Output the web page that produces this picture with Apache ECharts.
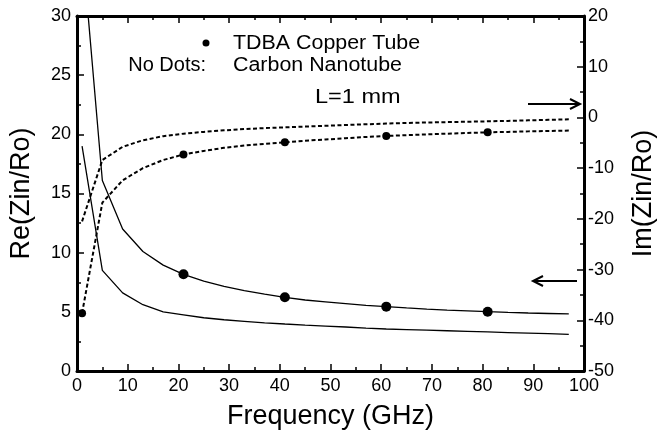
<!DOCTYPE html>
<html><head><meta charset="utf-8">
<script src="https://cdn.jsdelivr.net/npm/echarts@6/dist/echarts.min.js"></script>
<style>html,body{margin:0;padding:0;background:#fff}#c{width:665px;height:435px}</style>
</head><body><div id="c"></div>
<script>
// Frequency samples (GHz)
const freqs = [1,5,9,13,17,21,25,29,33,37,41,45,49,53,57,61,65,69,73,77,81,85,89,93,97];
// Re(Zin/Ro), TDBA copper tube (left axis)
const cuRe  = [36,16.1,12.0,10.1,8.95,8.17,7.6,7.15,6.8,6.5,6.23,6.0,5.85,5.7,5.55,5.44,5.33,5.23,5.15,5.08,5.01,4.95,4.9,4.86,4.82];
// Re(Zin/Ro), carbon nanotube (left axis)
const cntRe = [19,8.5,6.6,5.6,5.0,4.75,4.5,4.33,4.2,4.07,3.97,3.88,3.8,3.72,3.62,3.55,3.5,3.45,3.4,3.35,3.3,3.25,3.2,3.15,3.1];
// Im(Zin/Ro), TDBA copper tube (right axis)
const cuIm  = [-38.6,-16.8,-12.4,-10.0,-8.4,-7.3,-6.6,-6.0,-5.55,-5.2,-4.9,-4.6,-4.35,-4.1,-3.85,-3.66,-3.5,-3.35,-3.2,-3.07,-2.94,-2.85,-2.75,-2.68,-2.6];
// Im(Zin/Ro), carbon nanotube (right axis)
const cntIm = [-20.5,-8.4,-5.8,-4.5,-3.7,-3.2,-2.85,-2.55,-2.3,-2.1,-1.95,-1.8,-1.65,-1.5,-1.35,-1.2,-1.1,-1.0,-0.92,-0.85,-0.77,-0.68,-0.58,-0.48,-0.38];
// Frequencies where copper-tube dots are drawn
const dotFreqs = [1,21,41,61,81];

const FONT = 'Liberation Sans, Arial, sans-serif';
const pairs = (ys) => freqs.map((f, i) => [f, ys[i]]);
const dots = (ys) => freqs.map((f, i) => [f, ys[i]]).filter(p => dotFreqs.includes(p[0]));

const axisLine = { show: true, onZero: false, lineStyle: { color: '#000', width: 3 } };
const tick = { show: true, inside: true, length: 7, lineStyle: { color: '#000', width: 1.5 } };
const minor = { show: true, splitNumber: 2, length: 4, lineStyle: { color: '#000', width: 1.5 } };
const lbl = { color: '#000', fontSize: 18, fontFamily: FONT };
const nameStyle = { color: '#000', fontSize: 27, fontFamily: FONT };

const chart = echarts.init(document.getElementById('c'));
chart.setOption({
  animation: false,
  backgroundColor: '#fff',
  grid: { left: 75, right: 74, top: 16, bottom: 64 },
  xAxis: [
    { type: 'value', min: 0, max: 100, interval: 10, position: 'bottom',
      name: 'Frequency (GHz)', nameLocation: 'middle', nameGap: 32, nameTextStyle: nameStyle,
      axisLine, axisTick: tick, minorTick: minor, splitLine: { show: false },
      axisLabel: Object.assign({ margin: 6 }, lbl) },
    { type: 'value', min: 0, max: 100, interval: 10, position: 'top',
      axisLine, axisTick: tick, minorTick: minor, splitLine: { show: false },
      axisLabel: { show: false } }
  ],
  yAxis: [
    { type: 'value', min: 0, max: 30, interval: 5, position: 'left',
      name: 'Re(Zin/Ro)', nameLocation: 'middle', nameGap: 42, nameTextStyle: nameStyle,
      axisLine, axisTick: tick, minorTick: minor, splitLine: { show: false },
      axisLabel: Object.assign({ margin: 6 }, lbl) },
    { type: 'value', min: -50, max: 20, interval: 10, position: 'right',
      name: 'Im(Zin/Ro)', nameLocation: 'middle', nameGap: 46, nameTextStyle: nameStyle,
      axisLine, axisTick: tick, minorTick: minor, splitLine: { show: false },
      axisLabel: Object.assign({ margin: 4 }, lbl) }
  ],
  series: [
    { type: 'line', name: 'Cu Re', xAxisIndex: 0, yAxisIndex: 0, data: pairs(cuRe),
      showSymbol: false, clip: true, lineStyle: { color: '#000', width: 1.3 } },
    { type: 'line', name: 'CNT Re', xAxisIndex: 0, yAxisIndex: 0, data: pairs(cntRe),
      showSymbol: false, clip: true, lineStyle: { color: '#000', width: 1.3 } },
    { type: 'line', name: 'Cu Im', xAxisIndex: 0, yAxisIndex: 1, data: pairs(cuIm),
      showSymbol: false, clip: true, lineStyle: { color: '#000', width: 2, type: [4, 2.5] } },
    { type: 'line', name: 'CNT Im', xAxisIndex: 0, yAxisIndex: 1, data: pairs(cntIm),
      showSymbol: false, clip: true, lineStyle: { color: '#000', width: 2, type: [4, 2.5] } },
    { type: 'scatter', xAxisIndex: 0, yAxisIndex: 0, data: dots(cuRe), symbolSize: 10,
      clip: true, itemStyle: { color: '#000', opacity: 1 } },
    { type: 'scatter', xAxisIndex: 0, yAxisIndex: 1, data: dots(cuIm), symbolSize: 8,
      clip: true, itemStyle: { color: '#000', opacity: 1 } }
  ],
  graphic: [
    { type: 'circle', shape: { cx: 206, cy: 43, r: 3.5 }, style: { fill: '#000' } },
    { type: 'text', x: 233, y: 43, scaleX: 1.07, style: { text: 'TDBA Copper Tube', font: '20px ' + FONT, fill: '#000', textVerticalAlign: 'middle' } },
    { type: 'text', x: 206, y: 65, style: { text: 'No Dots:', font: '20px ' + FONT, fill: '#000', textAlign: 'right', textVerticalAlign: 'middle' } },
    { type: 'text', x: 233, y: 65, scaleX: 1.07, style: { text: 'Carbon Nanotube', font: '20px ' + FONT, fill: '#000', textVerticalAlign: 'middle' } },
    { type: 'text', x: 315, y: 97, scaleX: 1.12, style: { text: 'L=1 mm', font: '21px ' + FONT, fill: '#000', textVerticalAlign: 'middle' } },
    { type: 'polyline', shape: { points: [[528,104],[580,104]] }, style: { stroke: '#000', lineWidth: 2, fill: null } },
    { type: 'polyline', shape: { points: [[570,99],[580,104],[570,109]] }, style: { stroke: '#000', lineWidth: 2, fill: null } },
    { type: 'polyline', shape: { points: [[577,281],[533,281]] }, style: { stroke: '#000', lineWidth: 2, fill: null } },
    { type: 'polyline', shape: { points: [[543,276],[533,281],[543,286]] }, style: { stroke: '#000', lineWidth: 2, fill: null } }
  ]
});
</script></body></html>
